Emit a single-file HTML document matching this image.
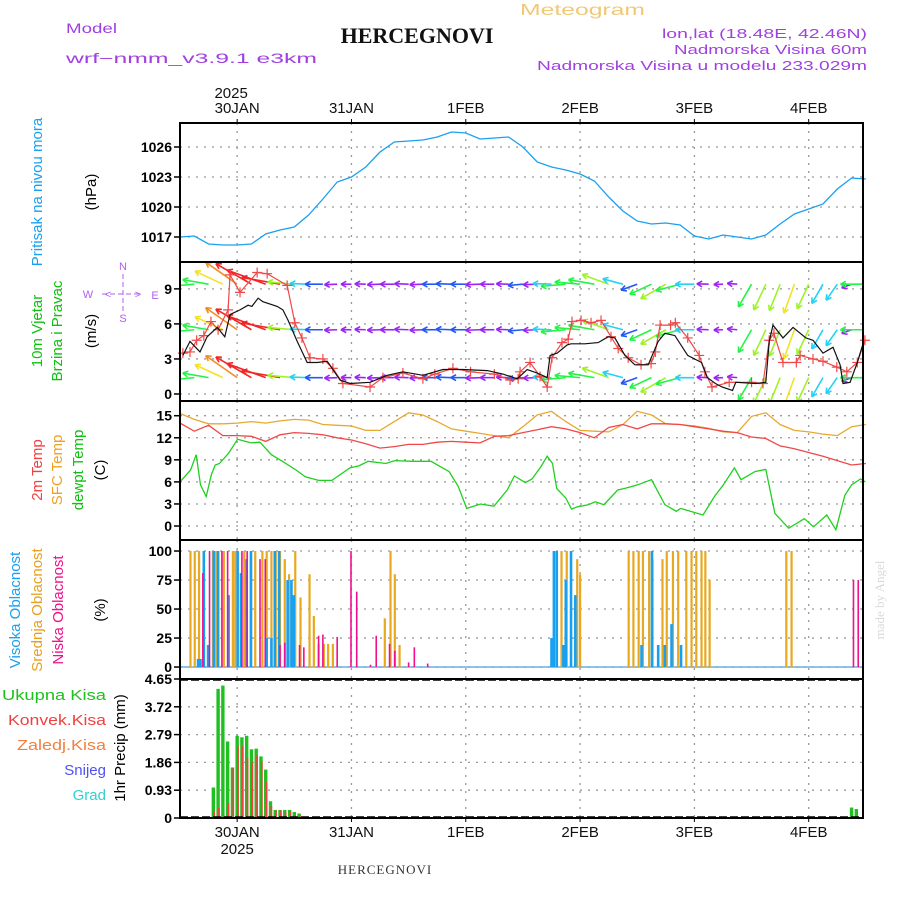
<!DOCTYPE html>
<html><head><meta charset="utf-8"><style>
html,body{margin:0;padding:0;background:#fff;}
svg{display:block;font-family:"Liberation Sans",sans-serif;}
</style></head><body>
<svg id="chart" xmlns="http://www.w3.org/2000/svg" width="900" height="900" viewBox="0 0 900 900">
<rect width="900" height="900" fill="#fff"/>
<g>
<text x="520" y="15" font-size="16" fill="#f0c878" textLength="125" lengthAdjust="spacingAndGlyphs">Meteogram</text>
<text x="417" y="43" font-size="22" font-weight="bold" font-family="Liberation Serif,serif" text-anchor="middle" fill="#111">HERCEGNOVI</text>
<text x="66" y="33" font-size="14" fill="#a040e0" textLength="51" lengthAdjust="spacingAndGlyphs">Model</text>
<text x="66" y="63" font-size="14" fill="#a040e0" textLength="251" lengthAdjust="spacingAndGlyphs">wrf−nmm_v3.9.1  e3km</text>
<text x="867" y="38" font-size="13" text-anchor="end" fill="#a040e0" textLength="205" lengthAdjust="spacingAndGlyphs">lon,lat (18.48E, 42.46N)</text>
<text x="867" y="54" font-size="13" text-anchor="end" fill="#a040e0" textLength="193" lengthAdjust="spacingAndGlyphs">Nadmorska Visina 60m</text>
<text x="867" y="70" font-size="13" text-anchor="end" fill="#a040e0" textLength="330" lengthAdjust="spacingAndGlyphs">Nadmorska Visina u modelu 233.029m</text>
</g>
<g id="plots"></g>
<g font-size="15">
<text transform="translate(42,192) rotate(-90)" text-anchor="middle" fill="#1aa0f0">Pritisak na nivou mora</text>
<text transform="translate(96,192) rotate(-90)" text-anchor="middle" fill="#000">(hPa)</text>
<text transform="translate(42,331) rotate(-90)" text-anchor="middle" fill="#10c010">10m Vjetar</text>
<text transform="translate(62,331) rotate(-90)" text-anchor="middle" fill="#10c010">Brzina i Pravac</text>
<text transform="translate(96,331) rotate(-90)" text-anchor="middle" fill="#000">(m/s)</text>
<g fill="#b060f0" font-size="11" stroke="none">
<text x="123" y="270" text-anchor="middle">N</text><text x="123" y="322" text-anchor="middle">S</text>
<text x="88" y="298" text-anchor="middle">W</text><text x="155" y="299" text-anchor="middle">E</text>
<text x="108" y="298" text-anchor="middle">&lt;</text><text x="138" y="298" text-anchor="middle">&gt;</text>
<line x1="102" y1="294" x2="142" y2="294" stroke="#b060f0" stroke-dasharray="5,3"/>
<line x1="123" y1="274" x2="123" y2="314" stroke="#b060f0" stroke-dasharray="5,3"/>
</g>
<text transform="translate(42,470) rotate(-90)" text-anchor="middle" fill="#f04040">2m Temp</text>
<text transform="translate(62,470) rotate(-90)" text-anchor="middle" fill="#f0a020">SFC Temp</text>
<text transform="translate(83,470) rotate(-90)" text-anchor="middle" fill="#10c010">dewpt Temp</text>
<text transform="translate(105,470) rotate(-90)" text-anchor="middle" fill="#000">(C)</text>
<text transform="translate(20,610) rotate(-90)" text-anchor="middle" fill="#1aa0f0">Visoka Oblacnost</text>
<text transform="translate(42,610) rotate(-90)" text-anchor="middle" fill="#e8a020">Srednja Oblacnost</text>
<text transform="translate(63,610) rotate(-90)" text-anchor="middle" fill="#f0108c">Niska Oblacnost</text>
<text transform="translate(105,610) rotate(-90)" text-anchor="middle" fill="#000">(%)</text>
<text x="106" y="700" text-anchor="end" fill="#20c020" textLength="104" lengthAdjust="spacingAndGlyphs">Ukupna  Kisa</text>
<text x="106" y="725" text-anchor="end" fill="#f04040" textLength="98" lengthAdjust="spacingAndGlyphs">Konvek.Kisa</text>
<text x="106" y="750" text-anchor="end" fill="#f08040" textLength="89" lengthAdjust="spacingAndGlyphs">Zaledj.Kisa</text>
<text x="106" y="775" text-anchor="end" fill="#5050f0">Snijeg</text>
<text x="106" y="800" text-anchor="end" fill="#30d0d0">Grad</text>
<text transform="translate(125,748) rotate(-90)" text-anchor="middle" fill="#000">1hr Precip (mm)</text>
<text x="385" y="874" font-size="13" text-anchor="middle" font-family="Liberation Serif,serif" fill="#333" letter-spacing="1">HERCEGNOVI</text>
<text transform="translate(884,600) rotate(-90)" text-anchor="middle" font-size="13" font-family="Liberation Serif,serif" fill="#d8dcd8">made by Angel</text>
</g>
</svg>
<script>
// ---- data (hours from 29JAN 12Z) ----
const dayLabels = ["30JAN","31JAN","1FEB","2FEB","3FEB","4FEB"];
const dayHours = [12,36,60,84,108,132];
const hours3 = [0,3,6,9,12,15,18,21,24,27,30,33,36,39,42,45,48,51,54,57,60,63,66,69,72,75,78,81,84,87,90,93,96,99,102,105,108,111,114,117,120,123,126,129,132,135,138,141,144];
const pressure = [1017.0,1017.1,1016.3,1016.2,1016.2,1016.3,1017.3,1017.7,1018.0,1019.2,1020.8,1022.5,1023.0,1024.0,1025.5,1026.5,1026.6,1026.7,1027.0,1027.5,1027.4,1026.8,1026.9,1027.0,1026.0,1024.5,1024.0,1023.7,1023.3,1022.6,1021.0,1019.6,1018.6,1018.3,1018.4,1018.2,1017.1,1016.8,1017.2,1017.0,1016.8,1017.2,1018.3,1019.3,1019.8,1020.3,1021.8,1022.9,1022.8];
const temp2m = [14.0,12.9,13.7,12.3,12.3,12.2,11.5,12.4,12.7,12.6,12.4,12.0,11.7,11.2,10.6,10.8,11.1,11.1,11.4,11.5,11.4,11.3,12.2,12.3,12.7,13.1,13.5,13.2,12.7,12.0,13.4,13.8,13.2,13.9,13.9,13.8,13.5,13.2,12.9,12.7,12.1,11.9,10.9,10.5,10.0,9.5,8.9,8.3,8.5];
const tempSfc = [15.3,14.5,13.9,13.9,14.0,14.2,14.0,14.3,14.5,14.4,13.8,13.7,13.6,13.0,13.0,14.2,15.4,15.1,14.2,13.2,12.9,12.6,12.3,12.0,13.5,15.1,15.6,14.2,13.0,12.9,12.8,13.8,15.6,15.1,13.9,13.8,13.6,13.3,12.8,12.7,14.9,15.4,13.8,13.0,12.8,12.5,12.3,13.5,13.8];
const dewpt = [[0,6.0],[2.2,7.6],[3.4,9.7],[4.3,5.6],[5.5,4.0],[6.6,7.0],[7.4,8.3],[8.3,8.5],[10.2,9.9],[12.1,11.8],[14.9,11.3],[16.8,11.4],[19.2,9.7],[21.5,8.8],[24.4,7.6],[26.3,6.7],[29.1,6.2],[31.9,6.2],[35.7,7.9],[37.6,8.2],[39.5,8.8],[43.2,8.5],[45.1,8.9],[48.9,8.8],[52.7,8.8],[56.5,7.4],[58.4,5.4],[60.2,2.4],[63.1,3.0],[65.9,2.7],[68.7,4.9],[70.2,6.8],[72.5,5.9],[73.9,6.4],[75.8,8.1],[77.1,9.5],[78.2,8.5],[79.1,5.1],[81.0,3.8],[82.2,2.3],[83.4,2.6],[85.7,2.9],[87.2,3.3],[89.0,2.9],[91.9,4.9],[93.3,5.1],[96.1,5.6],[99.0,6.3],[101.8,2.9],[104.2,2.0],[105.1,2.4],[109.8,1.5],[112.2,4.0],[114.1,5.6],[116.4,7.9],[117.8,6.3],[120.7,7.4],[123.0,7.7],[124.9,1.7],[127.8,-0.3],[131.1,1.0],[133.0,-0.1],[135.8,1.5],[137.7,-0.5],[139.6,4.2],[141.0,5.6],[142.9,6.4],[143.9,6.0]];
const windSpeed = [[0.6,3.3],[2.1,4.5],[4.2,3.6],[5.7,4.9],[7.8,5.7],[9.4,4.9],[10.5,6.8],[12.6,7.2],[14.3,7.6],[15.1,7.5],[16.4,8.2],[17.4,7.9],[20.4,7.5],[21.6,7.2],[22.7,6.3],[24.6,4.5],[26.7,2.7],[28.8,2.7],[30.9,2.8],[32.1,2.1],[33.6,1.2],[35.7,0.9],[39.9,1.0],[43.5,1.6],[46.8,1.9],[51.0,1.6],[55.2,2.1],[59.4,2.1],[64.5,2.0],[67.8,1.7],[70.8,1.3],[72.9,2.1],[75.0,1.8],[77.1,1.4],[77.7,3.3],[79.2,3.5],[81.3,4.2],[82.1,4.3],[85.0,4.3],[87.8,4.4],[89.9,4.9],[91.3,4.8],[93.4,3.3],[95.5,2.5],[98.3,2.5],[100.4,4.5],[101.8,5.2],[103.9,5.0],[106.6,3.3],[109.5,2.7],[110.7,1.4],[112.4,0.9],[113.8,0.6],[116.0,0.3],[116.7,1.0],[120.9,0.9],[123.0,1.0],[123.7,4.5],[124.5,5.9],[126.6,4.8],[128.7,5.7],[131.4,4.8],[132.9,4.6],[135.0,3.5],[137.1,4.0],[138.6,2.5],[139.2,0.9],[140.7,1.0],[142.2,2.7],[143.4,4.3]];
const windGust = [[0.6,3.5],[2.1,3.6],[3.5,4.6],[5.0,5.0],[6.5,6.2],[8.0,5.5],[10.1,7.2],[10.5,10.2],[12.6,8.7],[16.2,10.4],[18.3,10.3],[22.5,9.3],[24.1,6.1],[25.6,4.8],[27.3,3.1],[30.0,3.0],[32.1,2.2],[34.2,0.9],[39.9,0.6],[42.6,1.4],[46.8,1.8],[51.0,1.3],[53.5,1.7],[57.3,2.2],[61.0,1.9],[66.0,1.7],[69.3,1.2],[71.0,1.3],[71.4,1.9],[73.5,2.7],[75.6,1.5],[77.1,0.6],[78.1,3.1],[80.2,4.4],[81.5,4.7],[82.3,6.2],[84.2,6.3],[86.3,6.1],[88.4,6.3],[90.5,4.9],[92.0,3.9],[94.1,3.1],[96.8,2.5],[98.9,2.6],[99.8,3.6],[100.8,5.9],[103.0,5.9],[104.0,6.1],[106.6,4.8],[109.0,3.3],[110.2,1.9],[111.7,0.6],[115.3,1.0],[120.0,1.0],[122.4,0.9],[123.7,4.6],[124.7,5.2],[126.6,2.7],[129.4,2.7],[130.2,3.3],[132.9,3.0],[135.0,2.8],[137.9,2.3],[140.0,1.9],[142.2,2.7],[143.8,4.6]];
const arrowDir = [195,185,170,155,145,150,160,170,175,178,180,182,180,178,182,180,178,182,180,178,180,182,180,178,185,182,178,185,175,170,160,165,200,205,210,195,180,178,182,175,240,245,248,250,245,240,235,200,180];
const arrowSpeed = [3.5,4.0,4.5,5.5,7.2,7.8,7.8,7.3,4.6,2.8,2.6,1.5,1.0,1.1,1.5,1.8,1.8,1.6,2.0,2.1,2.0,1.9,1.8,1.4,2.0,1.8,2.8,4.2,4.3,4.5,4.9,3.3,2.5,4.0,5.1,4.2,2.9,1.3,0.7,0.9,4.5,5.0,5.0,5.5,4.7,3.6,3.0,1.0,4.3];
const arrowLevels = [9.4,5.5,1.4];
const cloudHigh = [[3.8,7],[4.3,7],[5.0,100],[5.9,19],[7.1,100],[8.0,100],[10.2,62],[12.1,100],[12.8,81],[14.0,93],[14.9,100],[18.2,25],[19.2,25],[19.9,100],[20.8,100],[22.6,75],[23.4,75],[23.9,62],[78.0,25],[78.5,100],[79.1,100],[80.5,19],[81.0,75],[82.1,100],[83.0,62],[96.9,19],[99.1,100],[100.4,19],[101.8,19],[103.2,37],[105.2,19]];
const cloudMid = [[2.2,100],[3.1,100],[4.0,100],[5.0,100],[6.9,100],[7.3,100],[7.8,100],[9.2,100],[11.1,100],[11.6,100],[13.5,100],[14.9,95],[15.8,100],[17.3,100],[18.2,100],[19.2,100],[20.1,100],[21.0,100],[22.0,93],[22.9,80],[24.2,100],[25.3,60],[27.2,80],[28.1,44],[29.1,20],[30.2,20],[31.1,20],[32.1,20],[43.0,42],[44.2,100],[45.1,80],[46.1,19],[79.1,10],[80.1,100],[81.2,100],[83.4,93],[84.0,80],[94.2,100],[95.2,100],[96.3,100],[97.2,100],[98.5,100],[99.2,93],[101.3,93],[102.2,100],[103.5,100],[104.6,100],[106.3,100],[107.4,100],[108.4,100],[109.5,100],[110.3,100],[111.2,75],[127.3,100],[128.4,100]];
const cloudLow = [[4.8,81],[6.2,100],[8.8,100],[10.0,100],[13.0,100],[14.1,100],[16.8,93],[17.9,93],[21.0,19],[22.0,21],[25.1,19],[26.0,17],[29.1,27],[30.0,28],[33.0,26],[35.9,100],[37.1,65],[40.0,2],[41.2,27],[44.0,20],[45.1,14],[48.0,4],[49.2,17],[52.0,3],[141.4,75],[142.4,75]];
const precipTotal = [[7,1.02],[8,4.32],[9,4.43],[10,2.56],[11,1.69],[12,2.75],[13,2.7],[14,2.75],[15,2.3],[16,2.32],[17,2.06],[18,1.62],[19,0.56],[20,0.27],[21,0.27],[22,0.27],[23,0.27],[24,0.2],[25,0.15],[141,0.35],[142,0.3]];
const precipConv = [[7,0.2],[8,0.35],[9,0.1],[10,0.5],[11,1.69],[12,2.4],[13,2.4],[14,2.0],[15,1.86],[16,2.1],[17,1.9],[18,1.2],[19,0.4],[20,0.25],[21,0.25],[22,0.2],[23,0.22],[24,0.05],[25,0.1]];
const pressTicks = [1017,1020,1023,1026];
const windTicks = [0,3,6,9];
const tempTicks = [0,3,6,9,12,15];
const cloudTicks = [0,25,50,75,100];
const precipTicks = ["0","0.93","1.86","2.79","3.72","4.65"];

// ---- layout ----
const NS = "http://www.w3.org/2000/svg";
const L = 180, R = 863, H0 = 0, H1 = 143.4;
const X = h => L + (h - H0) * (R - L) / (H1 - H0);
const panels = {
  press:{top:123,bot:262,min:1014.5,max:1028.4},
  wind:{top:262,bot:401,min:-0.6,max:11.3},
  temp:{top:401,bot:540,min:-1.9,max:17.0},
  cloud:{top:540,bot:679,min:-10.3,max:109.5},
  precip:{top:679,bot:818,min:0,max:4.65}
};
const Y = (p,v) => p.bot - (v - p.min) * (p.bot - p.top) / (p.max - p.min);
const root = document.getElementById('plots');
function mk(tag, attrs, parent){ const e=document.createElementNS(NS,tag); for(const k in attrs) e.setAttribute(k,attrs[k]); (parent||root).appendChild(e); return e; }
function pathOf(p, pts){ return pts.map((d,i)=>(i?'L':'M')+X(d[0]).toFixed(1)+','+Y(p,d[1]).toFixed(1)).join(''); }

function frame(name, p, ticks, labels){
  const g = mk('g',{});
  
  
  ticks.forEach((t,i)=>{
    const y = Y(p, t);
    const gl = mk('line',{x1:L,x2:R,y1:y,y2:y,stroke:'#999','stroke-width':1.3,'stroke-dasharray':'2,6'},g);
    
    
    mk('line',{x1:L-6,x2:L,y1:y,y2:y,stroke:'#000','stroke-width':1.5},g);
    const tx = mk('text',{x:L-8,y:y+5,'text-anchor':'end','font-size':14,fill:'#000','font-weight':'bold'},g);
    tx.textContent = labels ? labels[i] : t;
    
    
  });
  dayHours.forEach(h=>{
    const vl = mk('line',{x1:X(h),x2:X(h),y1:p.top,y2:p.bot,stroke:'#999','stroke-width':1.3,'stroke-dasharray':'2,6'},g);
    
    
  });
  return g;
}
function border(p){ const b=mk('rect',{x:L,y:p.top,width:R-L,height:p.bot-p.top,fill:'none',stroke:'#000','stroke-width':2});
    }

// pressure
const gp = frame('pressure', panels.press, pressTicks);
const pl = mk('path',{d:pathOf(panels.press, hours3.map((h,i)=>[h,pressure[i]])),fill:'none',stroke:'#1aa0f0','stroke-width':1.3},gp);
 

// wind
const gw = frame('wind', panels.wind, windTicks);
function speedColor(s){
  const stops=[[1,275],[2,225],[2.8,190],[3.8,130],[4.6,85],[5.3,55],[6.3,30],[7.3,0],[8.5,330]];
  let hue=stops[0][1];
  for(let i=0;i<stops.length;i++){ if(s>=stops[i][0]) hue=stops[i][1]; }
  return 'hsl('+hue+',90%,55%)';
}
const clipW = mk('clipPath',{id:'clipw'}); mk('rect',{x:L,y:panels.wind.top,width:R-L,height:panels.wind.bot-panels.wind.top},clipW);
const ga = mk('g',{'clip-path':'url(#clipw)'},gw);
 
arrowLevels.forEach(lv=>{
  hours3.forEach((h,i)=>{
    const s = arrowSpeed[i], a = arrowDir[i]*Math.PI/180, len = 4.5*s+6;
    const x0 = X(h), y0 = Y(panels.wind, lv);
    const x1 = x0 + len*Math.cos(a), y1 = y0 - len*Math.sin(a);
    const c = speedColor(s);
    const ar = mk('g',{stroke:c,'stroke-width':1.6,fill:'none'},ga);
     
    mk('line',{x1:x0,y1:y0,x2:x1,y2:y1},ar);
    [0.5,-0.5].forEach(d=>{ const b=a+Math.PI+d; mk('line',{x1:x1,y1:y1,x2:x1+6*Math.cos(b),y2:y1-6*Math.sin(b)},ar); });
  });
});
const gl1 = mk('path',{d:pathOf(panels.wind, windGust),fill:'none',stroke:'#f04848','stroke-width':1.2},gw);
 
windGust.forEach(d=>{ const x=X(d[0]),y=Y(panels.wind,d[1]);
  const m=mk('path',{d:`M${x-5},${y}H${x+5}M${x},${y-5}V${y+5}`,stroke:'#f04848','stroke-width':1.2},gw);
    });
const sl = mk('path',{d:pathOf(panels.wind, windSpeed),fill:'none',stroke:'#111','stroke-width':1.2},gw);
 

// temperature
const gt = frame('temp', panels.temp, tempTicks);
const t1 = mk('path',{d:pathOf(panels.temp, hours3.map((h,i)=>[h,tempSfc[i]])),fill:'none',stroke:'#e8a830','stroke-width':1.3},gt);
 
const t2 = mk('path',{d:pathOf(panels.temp, hours3.map((h,i)=>[h,temp2m[i]])),fill:'none',stroke:'#f04848','stroke-width':1.3},gt);
 
const t3 = mk('path',{d:pathOf(panels.temp, dewpt),fill:'none',stroke:'#20d020','stroke-width':1.3},gt);
 

// clouds
const gc = frame('cloud', panels.cloud, cloudTicks);
const zc = Y(panels.cloud,0);
mk('line',{x1:L,x2:R,y1:zc,y2:zc,stroke:'#6ab0e0','stroke-width':1.5},gc);
function bars(g, p, data, color, w, off, name){
  data.forEach(d=>{ const y=Y(p,d[1]), y0=Y(p,0);
    const r=mk('rect',{x:X(d[0])+off,y:Math.min(y,y0),width:w,height:Math.abs(y0-y),fill:color},g);
      });
}
bars(gc, panels.cloud, cloudMid, '#e8a820', 2.2, -1.1, 'mid-cloud-bar');
bars(gc, panels.cloud, cloudHigh, '#18a0f0', 2.6, -1.3, 'high-cloud-bar');
bars(gc, panels.cloud, cloudLow, '#f0108c', 1.6, -0.8, 'low-cloud-bar');

// precip
const gpr = frame('precip', panels.precip, precipTicks.map(Number), precipTicks);
bars(gpr, panels.precip, precipTotal, '#20c020', 3.4, -1.7, 'total-precip-bar');
bars(gpr, panels.precip, precipConv, '#f04040', 1.7, 0, 'convective-precip-bar');
[panels.precip.top+1, panels.precip.bot-1].forEach(y=>{ mk('line',{x1:L,x2:R,y1:y,y2:y,stroke:'#000','stroke-width':1.5,'stroke-dasharray':'8,3'},gpr); });

Object.values(panels).forEach(border);

// time axes
dayHours.forEach((h,i)=>{
  const x = X(h);
  mk('line',{x1:x,x2:x,y1:panels.press.top-4,y2:panels.press.top,stroke:'#000'});
  const a = mk('text',{x:x,y:113,'text-anchor':'middle','font-size':15,fill:'#111'}); a.textContent = dayLabels[i];
   
  mk('line',{x1:x,x2:x,y1:panels.precip.bot,y2:panels.precip.bot+4,stroke:'#000'});
  const b = mk('text',{x:x,y:837,'text-anchor':'middle','font-size':15,fill:'#111'}); b.textContent = dayLabels[i];
   
});
const y1 = mk('text',{x:X(dayHours[0])-6,y:98,'text-anchor':'middle','font-size':15,fill:'#111'}); y1.textContent='2025';
 
const y2 = mk('text',{x:X(dayHours[0]),y:854,'text-anchor':'middle','font-size':15,fill:'#111'}); y2.textContent='2025';
 
</script>
</body></html>
